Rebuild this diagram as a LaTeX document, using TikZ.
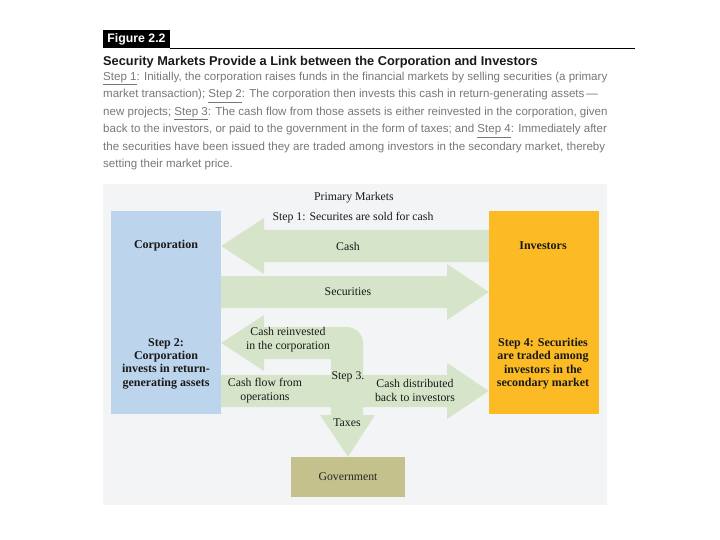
\documentclass[tikz,border=0pt]{standalone}
\usepackage{fontspec}
\setmainfont{Liberation Serif}
\setsansfont{Liberation Sans}
\usetikzlibrary{positioning}

\definecolor{bgGrey}{HTML}{F3F4F6}
\definecolor{corpBlue}{HTML}{BDD5EC}
\definecolor{invOrange}{HTML}{FCBB25}
\definecolor{flowGreen}{HTML}{D6E5C9}
\definecolor{govKhaki}{HTML}{C5C18D}
\definecolor{capGrey}{HTML}{777777}

\tikzset{
  box/.style={inner sep=0pt, minimum width=110pt, minimum height=203pt},
  flow/.style={fill=flowGreen},
  lbl/.style={font=\fontsize{11.8}{14}\selectfont, align=center, text=black!90},
  boldlbl/.style={font=\fontsize{12}{13.3}\selectfont\bfseries, align=center, text=black!90},
  capline/.style={anchor=base west, inner sep=0pt, text=capGrey, font=\sffamily\fontsize{11.55}{12}\selectfont},
}

\begin{document}
\begin{tikzpicture}[x=1pt, y=-1pt]
        \useasboundingbox (0,0) rectangle (720,540);

        % Caption
        \node[fill=black, text=white, inner sep=0pt, minimum width=67pt, minimum height=18pt,
              font=\sffamily\bfseries\fontsize{12.3}{14}\selectfont] (fig) at (136.5,39) {Figure 2.2};
        \draw[line width=0.9pt] (fig.south east) -- ++(465,0);
        \node[anchor=base west, inner sep=0pt, text=black!90,
              font=\sffamily\bfseries\fontsize{12.8}{14}\selectfont] (title) at (103,65.5)
              {Security Markets Provide a Link between the Corporation and Investors};
        \foreach \txt [count=\i] in {
            {\underline{Step 1}: Initially, the corporation raises funds in the financial markets by selling securities (a primary},
            {market transaction); \underline{Step 2}: The corporation then invests this cash in return-generating assets\,—},
            {new projects; \underline{Step 3}: The cash flow from those assets is either reinvested in the corporation, given},
            {back to the investors, or paid to the government in the form of taxes; and \underline{Step 4}: Immediately after},
            {the securities have been issued they are traded among investors in the secondary market, thereby},
            {setting their market price.}}
            \node[capline] (cap\i) at (103,63+17.5*\i) {\txt};

        % Background panel
        \fill[bgGrey] (103,184) rectangle (607,505);

        % Boxes
        \node[box, fill=corpBlue] (corp) at (166,312.5) {};
        \node[box, fill=invOrange] (inv) at (544,312.5) {};
        \node[inner sep=0pt, minimum width=114pt, minimum height=40pt, fill=govKhaki,
              font=\fontsize{11.8}{14}\selectfont, text=black!85] (gov) at (348,477) {Government};

        % Primary market arrows
        \fill[flow] (inv.west |- 0,230) -- (264,230) -- (264,218) -- (corp.east |- 0,246)
              -- (264,274) -- (264,262) -- (inv.west |- 0,262) -- cycle;
        \fill[flow] (corp.east |- 0,276) -- (447,276) -- (447,264) -- (inv.west |- 0,292)
              -- (447,320) -- (447,308) -- (corp.east |- 0,308) -- cycle;

        % Step 3 arrows
        \fill[flow] (corp.east |- 0,343) -- (264,315) -- (264,327) [rounded corners=16pt] -- (363,327)
              [sharp corners] -- (363,415) -- (375,415) -- (gov.north) -- (320,415) -- (331,415)
              -- (331,359) -- (264,359) -- (264,371) -- cycle;
        \fill[flow] (corp.east |- 0,375) -- (447,375) -- (447,363) -- (inv.west |- 0,391)
              -- (447,419) -- (447,407) -- (corp.east |- 0,407) -- cycle;

        % Labels
        \node[lbl] (prim) at (354,198) {Primary Markets};
        \node[lbl] (step1) at (353,218) {Step 1: Securites are sold for cash};
        \node[lbl] (cash) at (348,246) {Cash};
        \node[lbl] (sec) at (348,292) {Securities};
        \node[boldlbl] (corplbl) at (166,246) {Corporation};
        \node[boldlbl] (invlbl) at (543,246) {Investors};
        \node[boldlbl] (step2) at (166,363.5) {Step 2:\\Corporation\\invests in return-\\generating assets};
        \node[boldlbl] (step4) at (543,363.5) {Step 4: Securities\\are traded among\\investors in the\\secondary market};
        \node[lbl] (reinv) at (288,339.5) {Cash reinvested\\in the corporation};
        \node[lbl] (oper) at (265,390.5) {Cash flow from\\operations};
        \node[lbl] (step3) at (348,377) {Step 3.};
        \node[lbl] (distr) at (415,390.5) {Cash distributed\\back to investors};
        \node[lbl] (taxes) at (347,423) {Taxes};
\end{tikzpicture}
\end{document}
